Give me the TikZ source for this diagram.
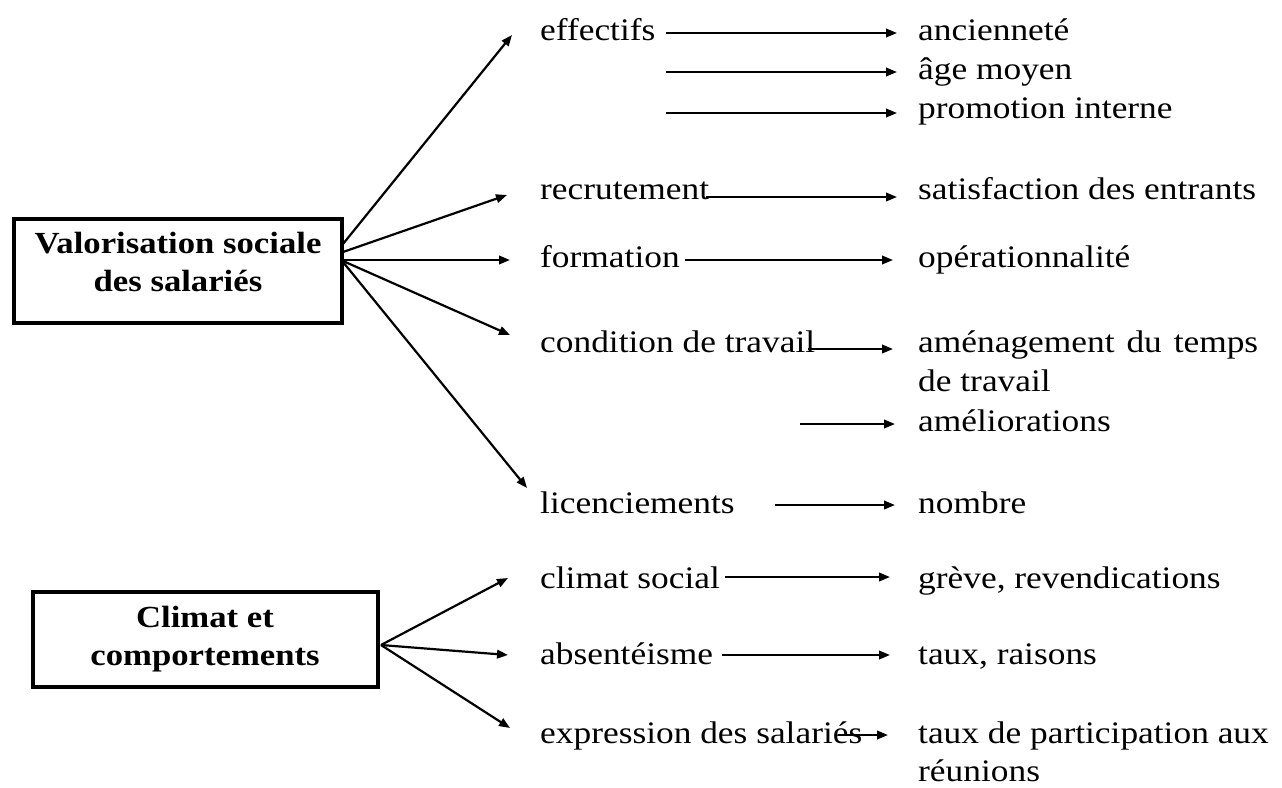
\documentclass[tikz,border=0pt]{standalone}
\usepackage{fontspec}
\setmainfont[FakeStretch=1.13]{Liberation Serif}
\usetikzlibrary{arrows.meta}
\begin{document}
\begin{tikzpicture}[x=1pt,y=-1pt,
  lbl/.style={anchor=base west, inner sep=0pt, font=\fontsize{31.3}{38}\selectfont},
  ttl/.style={anchor=base, inner sep=0pt, font=\bfseries\fontsize{30.7}{38}\selectfont},
  conn/.style={line width=2.2pt, -{Triangle[length=11pt,width=8.5pt]}},
  box/.style={draw, line width=4pt, inner sep=0pt}]
\useasboundingbox (0,0) rectangle (1282,787);
\fill[white] (0,0) rectangle (1282,787);

% boxes
\node[box, minimum width=328pt, minimum height=104pt] (b1) at (178,271) {};
\node[ttl] (t1a) at (178,253) {Valorisation sociale};
\node[ttl] (t1b) at (178,291) {des salariés};
\node[box, minimum width=345pt, minimum height=95pt] (b2) at (205.5,639.5) {};
\node[ttl] (t2a) at (205,627) {Climat et};
\node[ttl] (t2b) at (205,665) {comportements};

% middle column
\node[lbl] (m1) at (540,40) {effectifs};
\node[lbl] (m2) at (540,199) {recrutement};
\node[lbl] (m3) at (540,267) {formation};
\node[lbl] (m4) at (540,352) {condition de travail};
\node[lbl] (m5) at (540,513) {licenciements};
\node[lbl] (m6) at (540,588) {climat social};
\node[lbl] (m7) at (540,664) {absentéisme};
\node[lbl] (m8) at (540,743) {expression des salariés};

% right column
\node[lbl] (r1) at (918,40) {ancienneté};
\node[lbl] (r2) at (918,79) {âge moyen};
\node[lbl] (r3) at (918,118) {promotion interne};
\node[lbl] (r4) at (918,199) {satisfaction des entrants};
\node[lbl] (r5) at (918,267) {opérationnalité};
\node[lbl] (r6) at (918,352) {\makebox[340pt][s]{aménagement du temps}};
\node[lbl] (r6b) at (918,391) {de travail};
\node[lbl] (r7) at (918,431) {améliorations};
\node[lbl] (r8) at (918,513) {nombre};
\node[lbl] (r9) at (918,588) {grève, revendications};
\node[lbl] (r10) at (918,664) {taux, raisons};
\node[lbl] (r11) at (918,743) {taux de participation aux};
\node[lbl] (r11b) at (918,781) {réunions};

% start points on box 1 and box 2
\coordinate (s1) at (343,244);
\coordinate (s2) at (343,252);
\coordinate (s3) at (343,260);
\coordinate (s4) at (343,261);
\coordinate (s5) at (343,262);
\coordinate (s6) at (381,645);
% diagonal ends
\coordinate (e1) at (512,35);
\coordinate (e2) at (507,195);
\coordinate (e3) at (510,260);
\coordinate (e4) at (510,335);
\coordinate (e5) at (527,488);
\coordinate (e6) at (508,578);
\coordinate (e7) at (508,655);
\coordinate (e8) at (510,728);

\draw[conn] (s1) -- (e1);
\draw[conn] (s2) -- (e2);
\draw[conn] (s3) -- (e3);
\draw[conn] (s4) -- (e4);
\draw[conn] (s5) -- (e5);
\draw[conn] (s6) -- (e6);
\draw[conn] (s6) -- (e7);
\draw[conn] (s6) -- (e8);

% horizontal arrows
\coordinate (h1a) at (666,33);  \coordinate (h1b) at (897,33);
\coordinate (h2a) at (666,72);  \coordinate (h2b) at (897,72);
\coordinate (h3a) at (666,113); \coordinate (h3b) at (897,113);
\coordinate (h4a) at (706,197); \coordinate (h4b) at (897,197);
\coordinate (h5a) at (685,260); \coordinate (h5b) at (893,260);
\coordinate (h6a) at (808,349); \coordinate (h6b) at (893,349);
\coordinate (h7a) at (800,424); \coordinate (h7b) at (895,424);
\coordinate (h8a) at (775,505); \coordinate (h8b) at (895,505);
\coordinate (h9a) at (725,577); \coordinate (h9b) at (890,577);
\coordinate (h10a) at (722,655); \coordinate (h10b) at (890,655);
\coordinate (h11a) at (838,735); \coordinate (h11b) at (888,735);
\foreach \i in {1,...,11} \draw[conn] (h\i a) -- (h\i b);
\end{tikzpicture}
\end{document}
